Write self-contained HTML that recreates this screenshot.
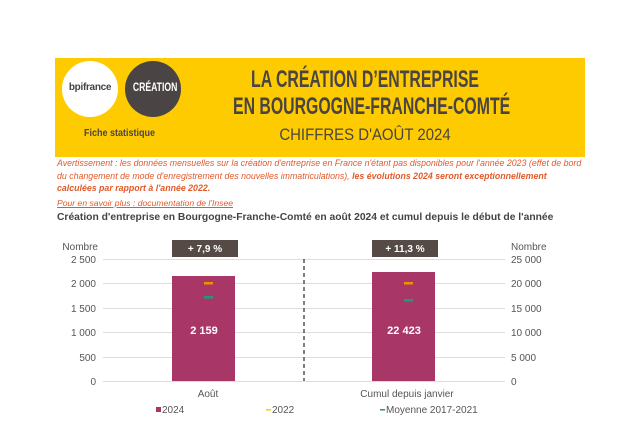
<!DOCTYPE html><html><head><meta charset="utf-8"><style>
body{margin:0;width:640px;height:430px;background:#fff;font-family:"Liberation Sans",sans-serif;position:relative;overflow:hidden}
.a{position:absolute;white-space:nowrap}
</style></head><body>
<div class="a" style="left:55px;top:58px;width:530px;height:99px;background:#fecb00"></div>
<div class="a" style="left:62px;top:61px;width:56px;height:56px;border-radius:50%;background:#fff"></div>
<div class="a" style="left:62px;top:82px;width:56px;text-align:center;font-size:10px;font-weight:bold;color:#444;letter-spacing:-0.3px">bpifrance</div>
<div class="a" style="left:125px;top:61px;width:56px;height:56px;border-radius:50%;background:#4a4444"></div>
<div class="a" style="left:125px;top:80px;width:56px;text-align:center;font-size:12px;font-weight:bold;color:#fff;transform:scaleX(0.72)">CRÉATION</div>
<div class="a" style="left:80px;top:128px;font-size:10px;font-weight:bold;color:#4a4444;transform:scaleX(0.9)">Fiche statistique</div>
<div class="a" style="left:165px;top:66px;width:400px;text-align:center;font-size:24px;font-weight:bold;color:#4a4444;transform:scaleX(0.66);line-height:27px">LA CRÉATION D’ENTREPRISE<br>EN BOURGOGNE-FRANCHE-COMTÉ</div>
<div class="a" style="left:165px;top:125px;width:400px;text-align:center;font-size:17px;color:#4a4444;transform:scaleX(0.88)">CHIFFRES D'AOÛT 2024</div>
<div class="a" style="left:57px;top:157px;width:530px;white-space:normal;font-size:8.8px;line-height:12.5px;font-style:italic;color:#e05a2b">Avertissement : les données mensuelles sur la création d'entreprise en France n'étant pas disponibles pour l'année 2023 (effet de bord du changement de mode d'enregistrement des nouvelles immatriculations), <b>les évolutions 2024 seront exceptionnellement calculées par rapport à l'année 2022.</b></div>
<div class="a" style="left:57px;top:198px;font-size:8.6px;font-style:italic;color:#e05a2b;text-decoration:underline">Pour en savoir plus : documentation de l'Insee</div>
<div class="a" style="left:57px;top:212px;font-size:10.3px;font-weight:bold;color:#444">Création d'entreprise en Bourgogne-Franche-Comté en août 2024 et cumul depuis le début de l'année</div>
<svg class="a" style="left:0;top:0" width="640" height="430" font-family="Liberation Sans" font-size="10" fill="#555">
<g stroke="#ddd" stroke-width="1">
<line x1="103" x2="505" y1="259.5" y2="259.5"/><line x1="103" x2="505" y1="283.5" y2="283.5"/><line x1="103" x2="505" y1="308.5" y2="308.5"/><line x1="103" x2="505" y1="332.5" y2="332.5"/><line x1="103" x2="505" y1="357.5" y2="357.5"/><line x1="103" x2="505" y1="381.5" y2="381.5"/></g>
<g text-anchor="end"><text x="98" y="250">Nombre</text><text x="96" y="263">2 500</text><text x="96" y="287">2 000</text><text x="96" y="312">1 500</text><text x="96" y="336">1 000</text><text x="96" y="361">500</text><text x="96" y="385">0</text></g>
<g><text x="511" y="250">Nombre</text><text x="511" y="263">25 000</text><text x="511" y="287">20 000</text><text x="511" y="312">15 000</text><text x="511" y="336">10 000</text><text x="511" y="361">5 000</text><text x="511" y="385">0</text></g>
<rect x="172" y="276" width="63" height="105" fill="#a83768"/>
<rect x="372" y="272" width="63" height="109" fill="#a83768"/>
<line x1="304" y1="259" x2="304" y2="381" stroke="#555" stroke-width="1.5" stroke-dasharray="4,3"/>
<rect x="204" y="282" width="9" height="2.5" fill="#f39200"/><rect x="204" y="296" width="9" height="2.5" fill="#1f9a7c"/>
<rect x="404" y="282" width="9" height="2.5" fill="#f39200"/><rect x="404" y="299" width="9" height="2.5" fill="#1f9a7c"/>
<g fill="#fff" font-weight="bold" font-size="11" text-anchor="middle"><text x="204" y="334">2 159</text><text x="404" y="334">22 423</text></g>
<rect x="172" y="240" width="66" height="17" fill="#554a46"/><rect x="372" y="240" width="66" height="17" fill="#554a46"/>
<g fill="#fff" font-weight="bold" text-anchor="middle"><text x="205" y="252">+ 7,9 %</text><text x="405" y="252">+ 11,3 %</text></g>
<g text-anchor="middle"><text x="208" y="397">Août</text><text x="407" y="397">Cumul depuis janvier</text></g>
<rect x="156" y="407" width="5" height="5" fill="#a83768"/><text x="162" y="413">2024</text>
<rect x="266" y="409" width="5" height="1.5" fill="#fecb00"/><text x="272" y="413">2022</text>
<rect x="380" y="409" width="5" height="1.5" fill="#1f9a7c"/><text x="386" y="413">Moyenne 2017-2021</text>
</svg>
</body></html>
